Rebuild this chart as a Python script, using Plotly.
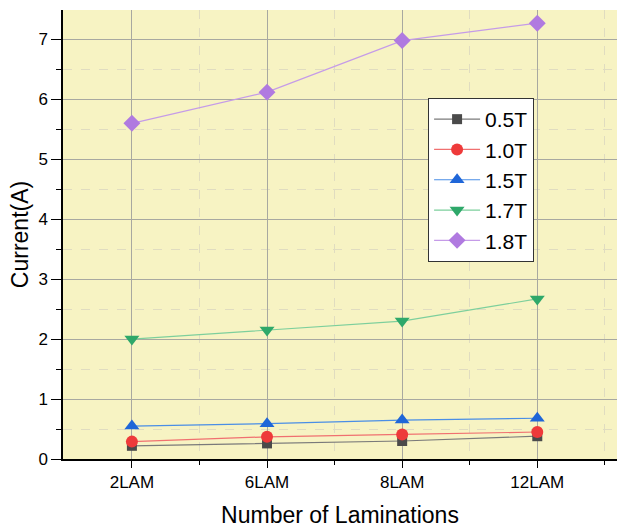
import plotly.graph_objects as go

categories = ["2LAM", "6LAM", "8LAM", "12LAM"]
series_names = ["0.5T", "1.0T", "1.5T", "1.7T", "1.8T"]
current_05T = [0.22, 0.26, 0.30, 0.38]
current_10T = [0.29, 0.37, 0.41, 0.45]
current_15T = [0.55, 0.59, 0.65, 0.68]
current_17T = [2.00, 2.15, 2.30, 2.67]
current_18T = [5.60, 6.12, 6.98, 7.27]

values = [current_05T, current_10T, current_15T, current_17T, current_18T]
line_colors = ["#7a7a7a", "#f07070", "#4a8ee6", "#7dcf9c", "#c59be8"]
marker_colors = ["#4a4a4a", "#ee3a3a", "#1f66d8", "#2ea86a", "#b07ae0"]
symbols = ["square", "circle", "triangle-up", "triangle-down", "diamond"]
sizes = [10, 12, 13, 13, 13]

xpos = list(range(len(categories)))

fig = go.Figure()
for name, vals, lc, mc, sym, sz in zip(series_names, values, line_colors,
                                       marker_colors, symbols, sizes):
    fig.add_trace(go.Scatter(
        x=xpos, y=vals, name=name, mode="lines+markers",
        line=dict(color=lc, width=1.2),
        marker=dict(symbol=sym, size=sz, color=mc, line=dict(width=0)),
    ))

font = "Liberation Sans, Arial, sans-serif"
fig.update_layout(
    width=617, height=529,
    margin=dict(l=63, r=0, t=10, b=70),
    paper_bgcolor="white",
    plot_bgcolor="#f7f3c3",
    font=dict(family=font, color="black"),
    showlegend=True,
    legend=dict(
        x=0.659, y=0.804, xanchor="left", yanchor="top",
        bgcolor="white", bordercolor="#333333", borderwidth=1,
        font=dict(size=21, family=font),
        itemwidth=46, tracegroupgap=0,
    ),
    xaxis=dict(
        range=[-0.51, 3.59],
        tickmode="array", tickvals=xpos, ticktext=categories,
        tickfont=dict(size=17), ticks="outside", ticklen=7, tickcolor="black",
        showline=True, linecolor="black", linewidth=1.5,
        showgrid=True, gridcolor="#a8a8a0", gridwidth=1,
        zeroline=False,
        minor=dict(tickvals=[0.5, 1.5, 2.5, 3.5], ticks="outside", ticklen=4,
                   tickcolor="black", showgrid=True, gridcolor="#e0dcc0",
                   griddash="dash", gridwidth=1),
        title=dict(text="Number of Laminations", font=dict(size=23), standoff=16),
    ),
    yaxis=dict(
        range=[0, 7.49],
        tickmode="linear", tick0=0, dtick=1,
        tickfont=dict(size=17), ticks="outside", ticklen=10, tickcolor="black",
        showline=True, linecolor="black", linewidth=1.5,
        showgrid=True, gridcolor="#a8a8a0", gridwidth=1,
        zeroline=False,
        minor=dict(dtick=0.5, ticks="outside", ticklen=5, tickcolor="black",
                   showgrid=True, gridcolor="#e0dcc0", griddash="dash", gridwidth=1),
        title=dict(text="Current(A)", font=dict(size=23), standoff=3),
    ),
)

fig.write_html("out.html")
